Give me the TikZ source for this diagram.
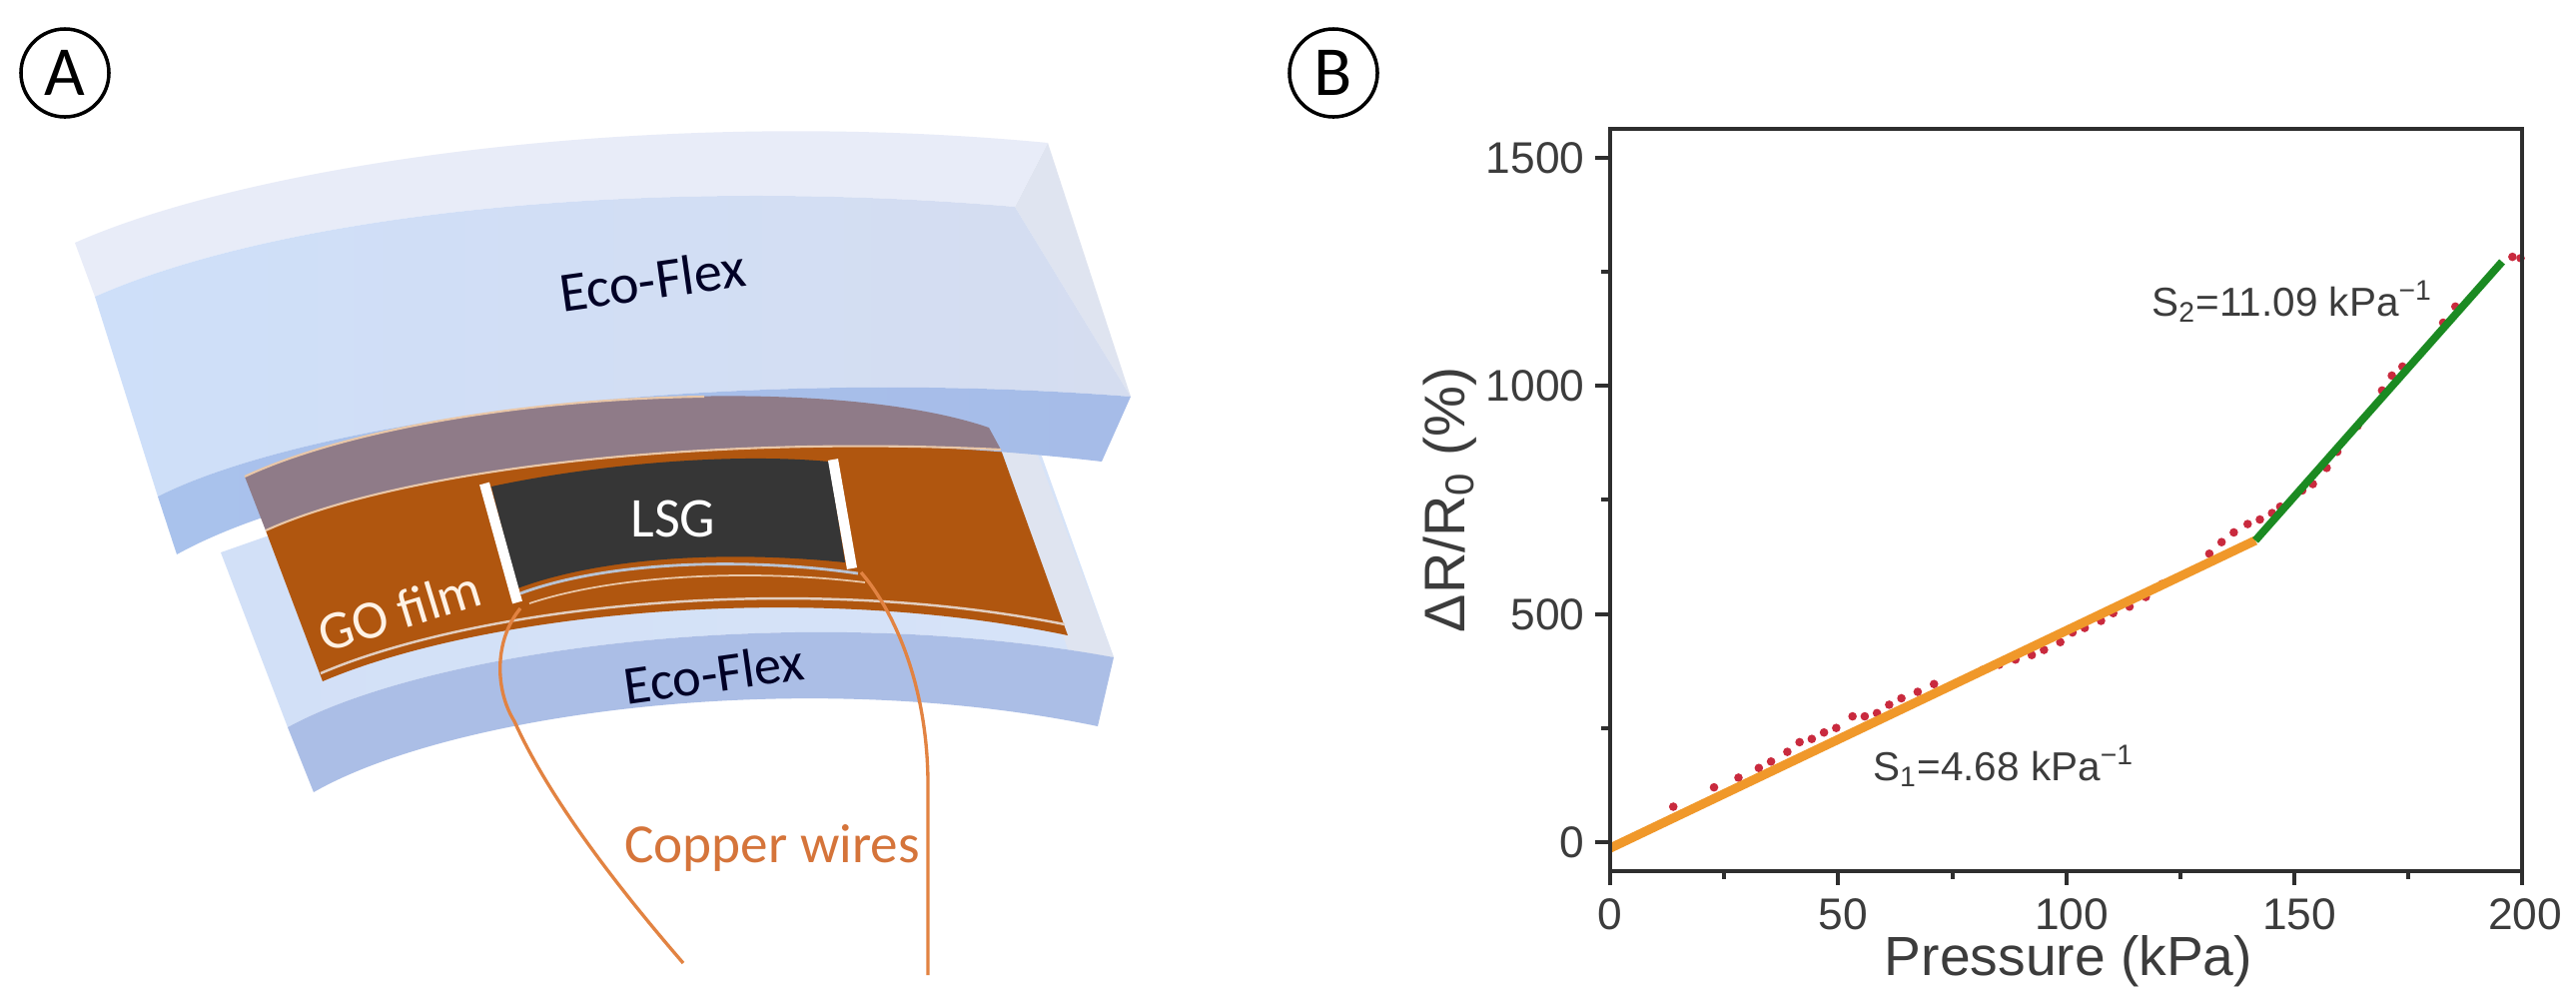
\documentclass[tikz,border=0pt]{standalone}
\usepackage{fontspec}
\setmainfont{Carlito}
\newfontfamily\plotfont{Liberation Sans}
\newcommand{\fsz}[1]{\fontsize{#1}{#1}\selectfont}
\definecolor{topface}{HTML}{E8ECF8}
\definecolor{frontL}{HTML}{CEDFF9}
\definecolor{frontR}{HTML}{D5DDF0}
\definecolor{sideface}{HTML}{DFE4F0}
\definecolor{underL}{HTML}{A9C2EC}
\definecolor{underR}{HTML}{A6BCE8}
\definecolor{lowfront}{HTML}{ABBEE6}
\definecolor{lowtop}{HTML}{D2E0F7}
\definecolor{film}{HTML}{B0560F}
\definecolor{filmback}{HTML}{8F7B88}
\definecolor{tan}{HTML}{E9C7A8}
\definecolor{lsg}{HTML}{363636}
\definecolor{wire}{HTML}{E28342}
\definecolor{wiretext}{HTML}{D5743A}
\definecolor{axisc}{HTML}{2E2E2E}
\definecolor{labc}{HTML}{3C3C3C}
\definecolor{dotc}{HTML}{C92A3E}
\definecolor{fit1}{HTML}{F0982A}
\definecolor{fit2}{HTML}{1B8A22}
\tikzset{
  panellet/.style={circle,draw=black,line width=1pt,minimum width=25pt,inner sep=0pt,font=\fsz{20}},
  lab/.style={inner sep=0pt,font=\fsz{15.5}},
  tick/.style={inner sep=0pt,text=labc,font=\plotfont\fsz{12.6}},
  axlab/.style={inner sep=0pt,text=labc,font=\plotfont\fsz{15.7}},
  ylab/.style={inner sep=0pt,text=labc,font=\plotfont\fsz{16.3}},
  anno/.style={inner sep=0pt,text=labc,font=\plotfont\fsz{11.5}},
  axline/.style={draw=axisc,line width=1.3pt},
  tickline/.style={draw=axisc,line width=0.9pt},
  wireline/.style={draw=wire,line width=0.95pt},
  tanline/.style={draw=tan,line width=0.6pt},
}
\begin{document}
\begin{tikzpicture}[x=0.01cm,y=-0.01cm]
\useasboundingbox (0,0) rectangle (2579,1008);
\fill[white] (0,0) rectangle (2579,1008);
% panel letters
\node[panellet,minimum size=88*0.2845pt] (pa) at (65,73) {A};
\node[panellet,minimum size=88*0.2845pt] (pb) at (1335,73) {B};
% lower slab
\path[left color=lowtop,right color=lowtop!90!white] (221,553) -- (288,728) .. controls (430,650) and (800,600) .. (1115,658) -- (1037,440) -- (600,420) -- cycle;
\fill[sideface] (1002,445) -- (1037,450) -- (1115,658) -- (1069,650) -- cycle;
\fill[lowfront] (288,728) .. controls (430,650) and (800,600) .. (1115,658) -- (1099,727) .. controls (800,665) and (450,715) .. (314,793) -- cycle;
% film
\fill[film] (266,531) .. controls (400,470) and (700,435) .. (1002,450) -- (1069,636) .. controls (800,580) and (480,615) .. (323,682) -- cycle;
\draw[draw=tan!70!lowtop,line width=0.7pt] (321,674) .. controls (480,606) and (800,572) .. (1066,625);
% LSG
\fill[lsg] (492,487) .. controls (580,468) and (720,452) .. (830,462) -- (846,563) .. controls (740,552) and (610,555) .. (518,589) -- cycle;
\draw[draw=lowtop!70!gray,line width=0.8pt] (521,594) .. controls (610,561) and (750,558) .. (859,574);
\draw[tan,line width=0.5pt] (530,604) .. controls (620,574) and (760,570) .. (866,583);
\draw[white,line width=2.9pt] (485,484) -- (518,603);
\draw[white,line width=2.9pt] (834,460) -- (853,569);
% upper slab
\fill[sideface] (1049,143) -- (1132,397) -- (1016,207) -- cycle;
\fill[topface] (75,243) .. controls (250,165) and (650,105) .. (1049,143) -- (1016,207) .. controls (640,175) and (280,215) .. (95,297) -- cycle;
\path[left color=frontL,right color=frontR] (95,297) .. controls (280,215) and (640,175) .. (1016,207) -- (1132,397) .. controls (720,365) and (310,420) .. (158,497) -- cycle;
\path[left color=underL,right color=underR] (158,497) .. controls (310,420) and (720,365) .. (1132,397) -- (1103,462) .. controls (700,415) and (330,470) .. (177,555) -- cycle;
% film seen through slab
\fill[filmback] (245,477) .. controls (420,395) and (820,370) .. (990,428) -- (1002,450) .. controls (700,435) and (400,470) .. (266,531) -- cycle;
\draw[tanline] (245,477) .. controls (350,428) and (536,399) .. (705,397);
\draw[tanline] (266,531) .. controls (400,470) and (700,435) .. (1002,450);
% wires
\coordinate (w1a) at (521,609);
\coordinate (w1b) at (684,964);
\coordinate (w2a) at (862,573);
\coordinate (w2b) at (929,976);
\draw[wireline] (w1a) .. controls (495,640) and (495,690) .. (515,722) .. controls (550,800) and (620,890) .. (w1b);
\draw[wireline] (w2a) .. controls (890,605) and (930,680) .. (929,790) -- (w2b);
% labels left
\node[lab,rotate=8,text=black!85!blue,font=\fsz{16}] (eco1) at (653,280) {Eco-Flex};
\node[lab,rotate=8,text=black!85!blue] (eco2) at (715,674) {Eco-Flex};
\node[lab,text=white,font=\fsz{16}] (lsgl) at (674,519) {LSG};
\node[lab,rotate=17,text=white!90!orange] (gol) at (400,611) {GO film};
\node[lab,text=wiretext,font=\fsz{15.7}] (cu) at (773,849) {Copper wires};
% plot
\foreach \X/\Y in {460/1250,510/1220,540/1205,565/1190,580/1180,600/1165,615/1150,630/1145,645/1135,660/1128,680/1110,695/1110,710/1105,725/1092,740/1082,760/1072,780/1060,840/1038,860/1030,880/1022,900/1015,915/1007,935/995,950/980,965/973,985/962,1000/950,1020/940,1040/925,1060/905,1118/858,1133/840,1148/825,1165/812,1180/805,1195/795,1205/785,1232/760,1245/750,1262/725,1275/700,1300/660,1330/605,1342/582,1355/568,1405/500,1420/475,1490/398,1500/400}
  \fill[dotc] ({1300+\X/1.226},{\Y/1.548}) circle (4.3);
\coordinate (f0) at (1612,849);
\coordinate (f1) at (2258,541);
\coordinate (f2) at (2505,262);
\draw[fit1,line width=2.6pt] (f0) -- (f1);
\draw[fit2,line width=2.2pt] (f1) -- (f2);
\draw[axline] (1612,129) rectangle (2525,872);
\foreach \py in {843,615,386,158} \draw[tickline] (1612,\py) -- (1597,\py);
\foreach \py in {729,500,272} \draw[tickline] (1612,\py) -- (1603,\py);
\foreach \px in {1612,1840,2069,2297,2525} \draw[tickline] (\px,872) -- (\px,886);
\foreach \px in {1726,1955,2183,2411} \draw[tickline] (\px,872) -- (\px,880);
\node[tick,anchor=east] (y0) at (1587,843) {0};
\node[tick,anchor=east] (y500) at (1587,615) {500};
\node[tick,anchor=east] (y1000) at (1587,386) {1000};
\node[tick,anchor=east] (y1500) at (1587,158) {1500};
\node[tick] (x0) at (1612,915) {0};
\node[tick] (x50) at (1845,915) {50};
\node[tick] (x100) at (2074,915) {100};
\node[tick] (x150) at (2302,915) {150};
\node[tick] (x200) at (2528,915) {200};
\node[axlab] (xl) at (2071,962) {Pressure (kPa)};
\node[ylab,rotate=90] (yl) at (1452,500) {ΔR/R\textsubscript{0} (\%)};
\node[anno] (s1) at (2006,767) {S\textsubscript{1}=4.68 kPa\textsuperscript{−1}};
\node[anno] (s2) at (2295,302) {S\textsubscript{2}=11.09 kPa\textsuperscript{−1}};
\end{tikzpicture}
\end{document}
